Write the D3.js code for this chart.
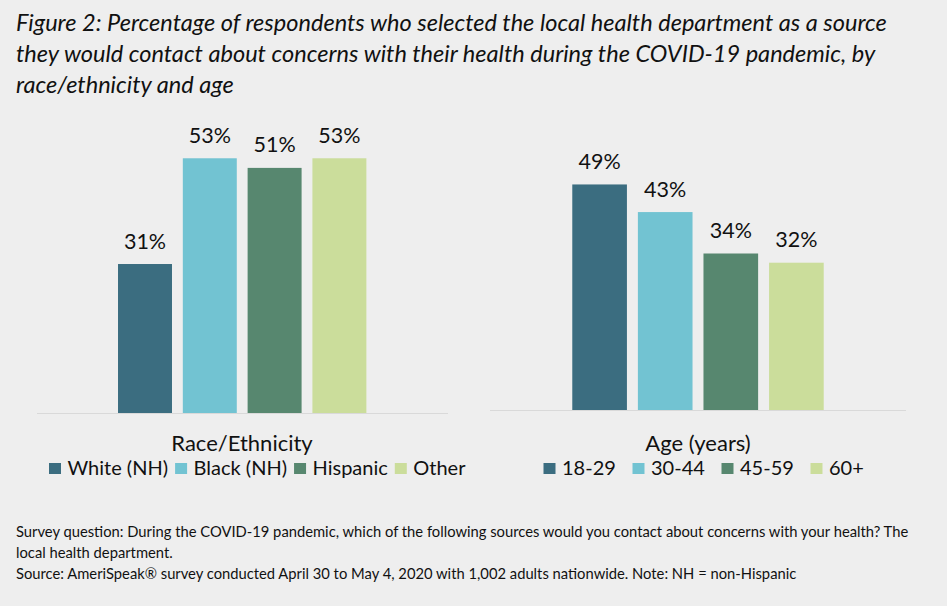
<!DOCTYPE html>
<html>
<head>
<meta charset="utf-8">
<script src="https://cdn.jsdelivr.net/npm/d3@7"></script>
<style>
  html, body { margin: 0; padding: 0; background: #eeeeee; }
  svg { display: block; }
  text { font-family: Lato, "Open Sans", sans-serif; fill: #111; }
</style>
</head>
<body>
<svg id="chart" width="947" height="606"></svg>
<script>
// ---------- data ----------
const titleLines = [
  "Figure 2: Percentage of respondents who selected the local health department as a source",
  "they would contact about concerns with their health during the COVID-19 pandemic, by",
  "race/ethnicity and age"
];
const raceCategories = ["White (NH)", "Black (NH)", "Hispanic", "Other"];
const raceValues = [31, 53, 51, 53];
const raceTitle = "Race/Ethnicity";
const ageCategories = ["18-29", "30-44", "45-59", "60+"];
const ageValues = [49, 43, 34, 32];
const ageTitle = "Age (years)";
const seriesColors = ["#3b6d80", "#72c3d2", "#57876f", "#cbdd9b"];
const footerLines = [
  "Survey question: During the COVID-19 pandemic, which of the following sources would you contact about concerns with your health? The",
  "local health department.",
  "Source: AmeriSpeak\u00AE survey conducted April 30 to May 4, 2020 with 1,002 adults nationwide. Note: NH = non-Hispanic"
];

// ---------- drawing ----------
const svg = d3.select("#chart");
svg.append("rect").attr("width", 947).attr("height", 606).attr("fill", "#eeeeee");

function fitSize(sel, base, target) {
  sel.style("font-size", base + "px");
  const w = sel.node().getComputedTextLength();
  return base * target / w;
}

// Title
const tl = svg.append("g").selectAll("text").data(titleLines).join("text")
  .attr("x", 16)
  .attr("y", (d, i) => 31 + i * 31)
  .style("font-style", "italic")
  .text(d => d);
const tSize = fitSize(tl.filter((d, i) => i === 0), 20, 871);
tl.style("font-size", tSize + "px");

// Footer
const fl = svg.append("g").selectAll("text").data(footerLines).join("text")
  .attr("x", 16)
  .attr("y", (d, i) => [537, 558, 579][i])
  .text(d => d);
const fSize = fitSize(fl.filter((d, i) => i === 0), 14, 893);
fl.style("font-size", fSize + "px");

function drawPanel(cfg) {
  const g = svg.append("g");
  const x = d3.scaleBand().domain(cfg.cats)
    .range(cfg.xRange).paddingInner(0.167).paddingOuter(0.0835);
  const y = d3.scaleLinear().domain([0, 60]).range([cfg.base, cfg.top]);

  g.append("line")
    .attr("x1", cfg.lineX[0]).attr("x2", cfg.lineX[1])
    .attr("y1", y(0) + 0.5).attr("y2", y(0) + 0.5)
    .attr("stroke", "#d9d9d9").attr("stroke-width", 1.2);

  g.selectAll("rect.bar").data(cfg.vals).join("rect")
    .attr("class", "bar")
    .attr("x", (d, i) => x(cfg.cats[i]))
    .attr("width", x.bandwidth())
    .attr("y", d => y(d))
    .attr("height", d => y(0) - y(d))
    .attr("fill", (d, i) => seriesColors[i]);

  g.selectAll("text.lbl").data(cfg.vals).join("text")
    .attr("class", "lbl")
    .attr("x", (d, i) => x(cfg.cats[i]) + x.bandwidth() / 2)
    .attr("y", d => y(d) - 15.5)
    .attr("text-anchor", "middle")
    .style("font-size", "21.5px")
    .text(d => d + "%");

  g.append("text")
    .attr("x", cfg.legTitleX).attr("y", 451)
    .attr("text-anchor", "middle")
    .style("font-size", "22px")
    .text(cfg.title);

  const lg = g.append("g");
  let cx = cfg.legStart;
  cfg.cats.forEach((c, i) => {
    const sx = cfg.legStep ? cfg.legStart + i * cfg.legStep : cx;
    lg.append("rect").attr("x", sx).attr("y", 463).attr("width", 12).attr("height", 11)
      .attr("fill", seriesColors[i]);
    const t = lg.append("text").attr("x", sx + 18.5).attr("y", 474.5)
      .style("font-size", "20px").text(c);
    cx = sx + 18.5 + t.node().getComputedTextLength() + 7;
  });
}

drawPanel({
  cats: raceCategories, vals: raceValues, title: raceTitle,
  xRange: [112.6, 371.8], base: 413, top: 413 - 60 * 4.806,
  lineX: [37, 448], legTitleX: 242, legStart: 49, legStep: null
});
drawPanel({
  cats: ageCategories, vals: ageValues, title: ageTitle,
  xRange: [566.8, 829.2], base: 410, top: 410 - 60 * 4.603,
  lineX: [490, 906], legTitleX: 698, legStart: 543.5, legStep: 89
});
</script>
</body>
</html>
